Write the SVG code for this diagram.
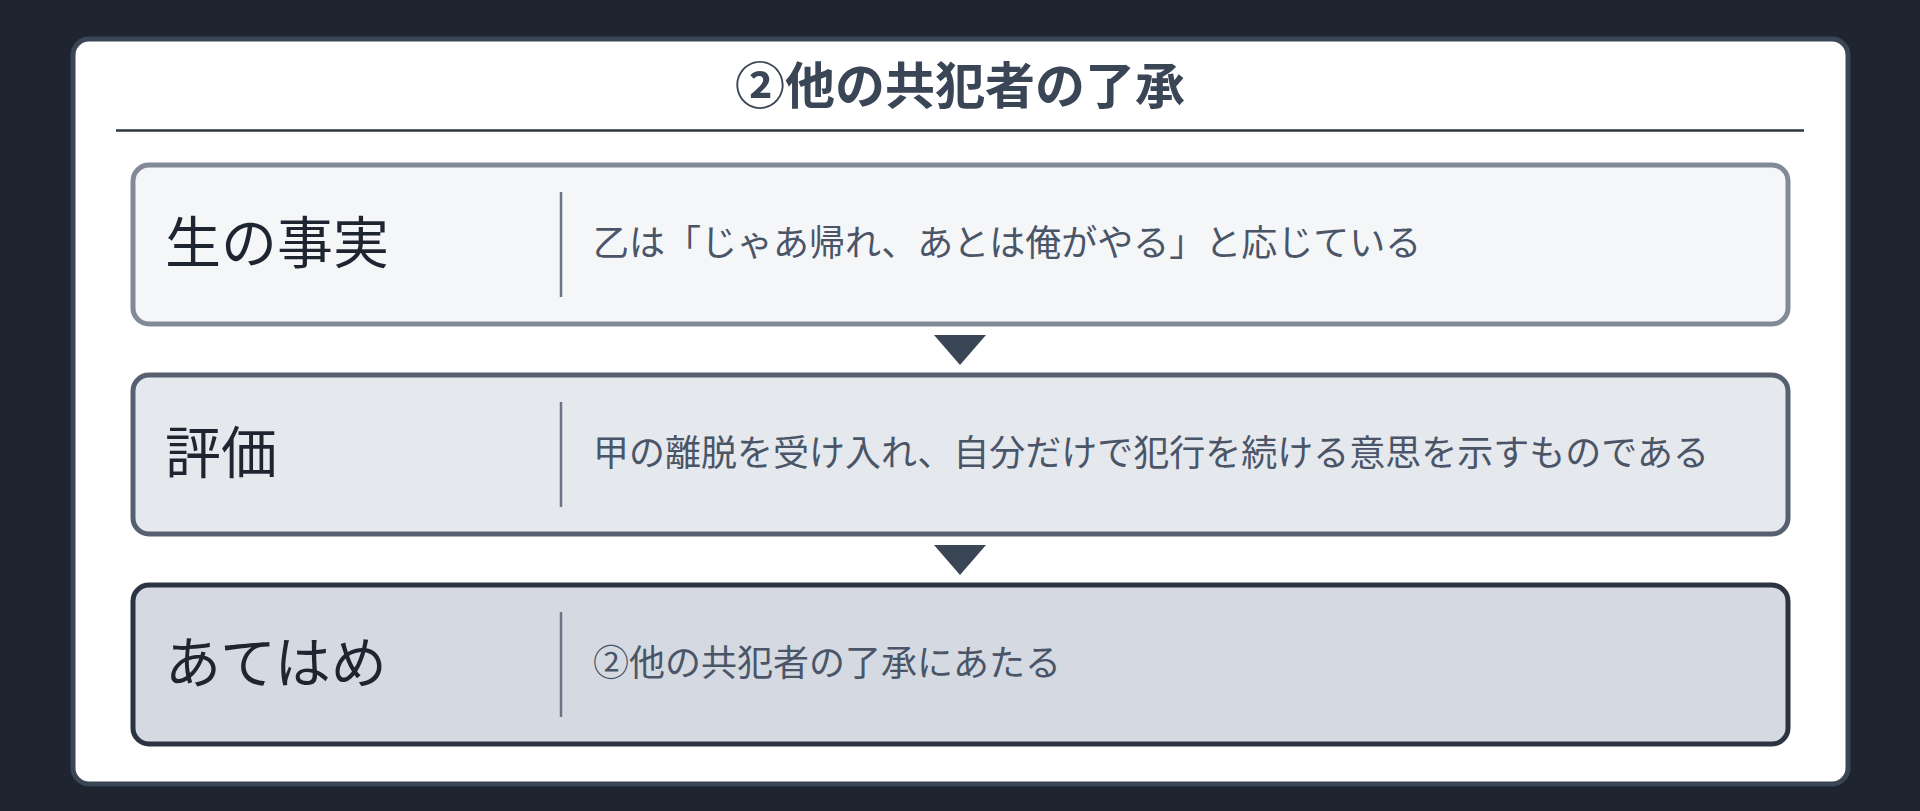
<svg xmlns="http://www.w3.org/2000/svg" width="1920" height="811" viewBox="0 0 1920 811">
  <style>
    .title { font-family: "Noto Sans CJK JP", "Noto Sans", sans-serif; font-size: 50px; font-weight: 700; fill: #3a4556; }
    .label { font-family: "Noto Sans CJK JP", "Noto Sans", sans-serif; font-size: 56px; font-weight: 400; fill: #1e2530; }
    .desc { font-family: "Noto Sans CJK JP", "Noto Sans", sans-serif; font-size: 36px; font-weight: 400; fill: #4a5568; }
    .divider { stroke: #6b7585; stroke-width: 2.5; }
    .box { stroke-width: 5; }
    .arrow { fill: #3a4556; }
  </style>
  <rect x="0" y="0" width="1920" height="811" fill="#1e2530"/>
  <rect id="panel" x="73" y="39" width="1775" height="745" rx="16" ry="16" fill="#ffffff" stroke="#3a4556" stroke-width="5"/>
  <g id="title">
    <text class="title" x="960" y="103.5" text-anchor="middle">②他の共犯者の了承</text>
    <line x1="116" y1="130.5" x2="1804" y2="130.5" stroke="#2d3441" stroke-width="2.5"/>
  </g>
  <g id="node-fact">
    <rect class="box" x="133" y="165" width="1655" height="159" rx="16" ry="16" fill="#f5f6f8" stroke="#838a97"/>
    <text class="label" x="165" y="262.5">生の事実</text>
    <line class="divider" x1="561" y1="192" x2="561" y2="297"/>
    <text class="desc" x="593" y="256">乙は「じゃあ帰れ、あとは俺がやる」と応じている</text>
  </g>
  <g id="node-eval">
    <rect class="box" x="133" y="375" width="1655" height="159" rx="16" ry="16" fill="#e5e8ed" stroke="#566070"/>
    <text class="label" x="165" y="472.5">評価</text>
    <line class="divider" x1="561" y1="402" x2="561" y2="507"/>
    <text class="desc" x="593" y="466">甲の離脱を受け入れ、自分だけで犯行を続ける意思を示すものである</text>
  </g>
  <g id="node-apply">
    <rect class="box" x="133" y="585" width="1655" height="159" rx="16" ry="16" fill="#d5dae2" stroke="#2d3441"/>
    <text class="label" x="165" y="682.5">あてはめ</text>
    <line class="divider" x1="561" y1="612" x2="561" y2="717"/>
    <text class="desc" x="593" y="676">②他の共犯者の了承にあたる</text>
  </g>
  <g id="connectors">
    <polygon class="arrow" points="934,335 986,335 960,365"/>
    <polygon class="arrow" points="934,545 986,545 960,575"/>
  </g>
</svg>
